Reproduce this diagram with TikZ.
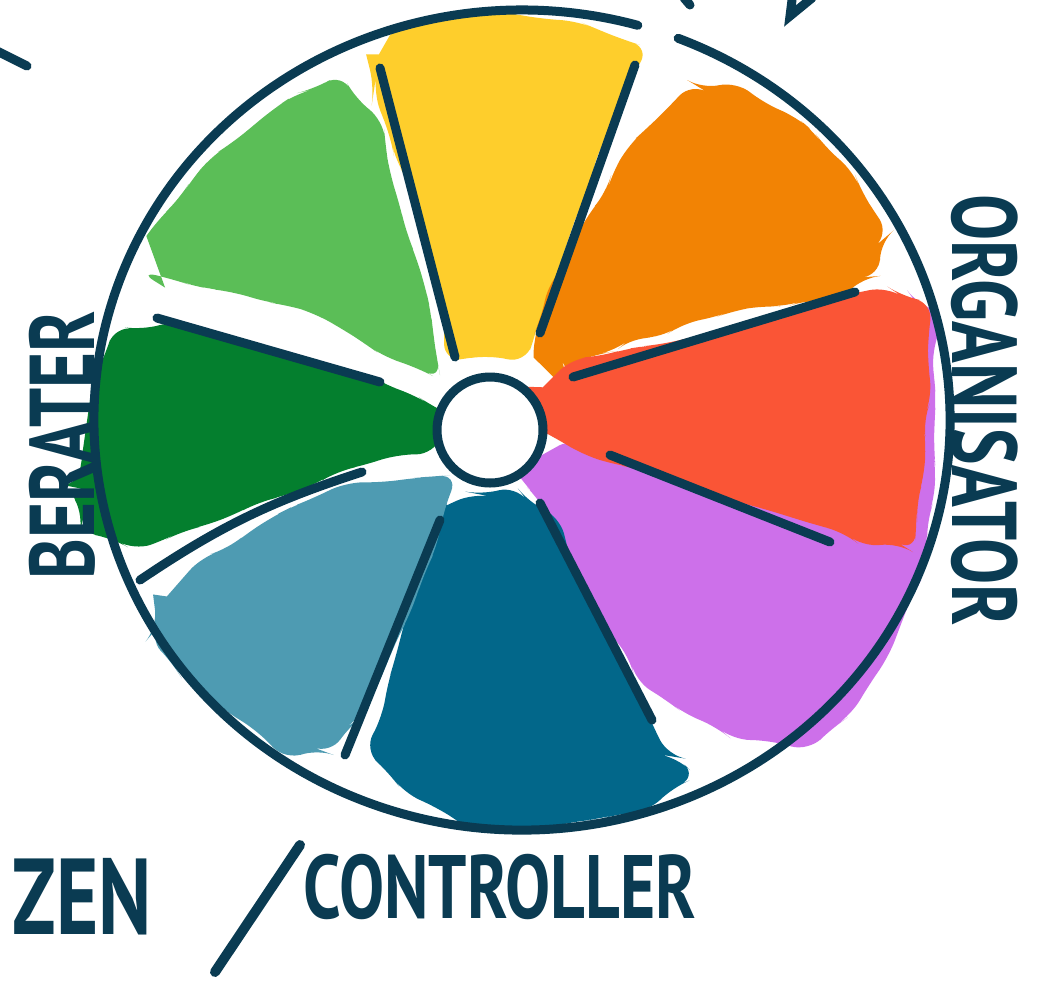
\documentclass[tikz,border=0pt]{standalone}
\usepackage{fontspec}
\newfontfamily\hand[FakeStretch=0.75]{PT Sans}
\usetikzlibrary{decorations.pathmorphing}
\definecolor{ink}{HTML}{0A3B52}
\definecolor{wlgreen}{HTML}{5BBE57}
\definecolor{wyellow}{HTML}{FECE2C}
\definecolor{worange}{HTML}{F28304}
\definecolor{wred}{HTML}{FA5536}
\definecolor{wpurple}{HTML}{CD70EA}
\definecolor{wteal}{HTML}{02678A}
\definecolor{wsteel}{HTML}{4E9BB2}
\definecolor{wgreen}{HTML}{047F2E}
\begin{document}
\begin{tikzpicture}[x=0.5pt, y=-0.5pt,
    blob/.style={rounded corners=9pt, decorate,
                 decoration={random steps, segment length=12pt, amplitude=2.5pt}},
    spoke/.style={draw=ink, line width=4.5pt, line cap=round},
    word/.style={text=ink, inner sep=0pt, font=\hand\bfseries\fontsize{46}{46}\selectfont}]
  \pgfmathsetseed{7}
  \useasboundingbox[fill=white] (0,0) rectangle (1042,986);
  % coloured parts
  \fill[wlgreen, blob] (135,250) -- (200,170) -- (260,120) -- (330,80) -- (370,110) -- (395,190)
      -- (420,270) -- (440,375) -- (400,362) -- (330,322) -- (250,297) -- (155,275) -- cycle;
  \fill[wyellow, blob] (370,70) -- (390,35) -- (470,15) -- (560,20) -- (640,45) -- (625,95)
      -- (600,150) -- (575,220) -- (555,280) -- (530,350) -- (455,360) -- (440,300)
      -- (415,200) -- (380,110) -- cycle;
  \fill[worange, blob] (530,375) -- (545,300) -- (580,230) -- (620,160) -- (680,95) -- (720,85)
      -- (780,110) -- (840,160) -- (880,220) -- (880,260) -- (850,290) -- (700,320)
      -- (580,360) -- (560,390) -- cycle;
  \fill[wpurple, blob] (515,470) -- (560,445) -- (660,460) -- (780,500) -- (900,300)
      -- (935,310) -- (935,480) -- (925,560) -- (895,640) -- (860,700) -- (820,740)
      -- (750,740) -- (700,720) -- (650,690) -- (600,620) -- (560,540) -- cycle;
  \fill[wred, blob] (530,400) -- (560,370) -- (680,340) -- (800,305) -- (870,290) -- (920,300)
      -- (930,380) -- (925,460) -- (915,540) -- (880,545) -- (800,520) -- (700,490)
      -- (600,460) -- (540,430) -- cycle;
  \fill[wteal, blob] (430,510) -- (500,490) -- (545,510) -- (580,580) -- (620,660) -- (660,740)
      -- (690,770) -- (660,800) -- (560,825) -- (490,830) -- (420,800) -- (375,760)
      -- (385,700) -- (400,640) -- (420,570) -- cycle;
  \fill[wsteel, blob] (155,610) -- (190,570) -- (260,525) -- (330,490) -- (400,480) -- (450,475)
      -- (440,530) -- (415,600) -- (380,680) -- (340,740) -- (300,755) -- (240,720)
      -- (190,680) -- (160,650) -- cycle;
  \fill[wgreen, blob] (80,470) -- (90,400) -- (110,340) -- (160,325) -- (250,345) -- (330,365)
      -- (400,390) -- (450,415) -- (440,440) -- (380,460) -- (300,490) -- (220,520)
      -- (150,545) -- (95,535) -- (75,500) -- cycle;
  % rim and hub
  \coordinate (c) at (522,420);
  \draw[spoke] (c) ++(-68.6:428 and 410)
      arc[start angle=-68.6, end angle=285.7, x radius=428, y radius=410];
  \node[circle, draw=ink, fill=white, line width=4.5pt, minimum size=53pt] (hub) at (490,430) {};
  % spokes
  \coordinate (s1a) at (380,68);  \coordinate (s1b) at (455,357);
  \coordinate (s2a) at (635,65);  \coordinate (s2b) at (540,333);
  \coordinate (s3a) at (855,292); \coordinate (s3b) at (573,377);
  \coordinate (s4a) at (830,542); \coordinate (s4b) at (610,455);
  \coordinate (s5a) at (652,720); \coordinate (s5b) at (540,503);
  \coordinate (s6a) at (345,755); \coordinate (s6b) at (440,520);
  \coordinate (s7a) at (140,580); \coordinate (s7b) at (362,472);
  \coordinate (s8a) at (157,318); \coordinate (s8b) at (380,382);
  \draw[spoke] (s1a) -- (s1b);
  \draw[spoke] (s2a) -- (s2b);
  \draw[spoke] (s3a) -- (s3b);
  \draw[spoke] (s4a) -- (s4b);
  \draw[spoke] (s5a) -- (s5b);
  \draw[spoke] (s6a) -- (s6b);
  \draw[spoke] (s7a) to[bend left=8] (s7b);
  \draw[spoke] (s8a) -- (s8b);
  % labels
  \node[word, rotate=90] (berater) at (62,445) {BERATER};
  \node[word, rotate=-90] (orga) at (985,410) {ORGANISATOR};
  \node[word, font=\hand\bfseries\fontsize{45}{45}\selectfont] (contr) at (500,887) {CONTROLLER};
  \node[word, anchor=east, font=\hand\bfseries\fontsize{54}{54}\selectfont] (zen) at (152,897) {ZEN};
  \coordinate (sl1) at (300,845); \coordinate (sl2) at (215,972);
  \draw[spoke, line width=5pt] (sl1) -- (sl2);
  % cut strokes at the top
  \coordinate (t1a) at (-5,50);  \coordinate (t1b) at (27,66);
  \coordinate (t2a) at (792,0);  \coordinate (t2b) at (790,16); \coordinate (t2c) at (812,-2);
  \coordinate (t3a) at (684,-2); \coordinate (t3b) at (690,5);
  \draw[spoke] (t1a) -- (t1b);
  \draw[spoke] (t2a) -- (t2b) -- (t2c);
  \draw[spoke] (t3a) -- (t3b);
\end{tikzpicture}
\end{document}
